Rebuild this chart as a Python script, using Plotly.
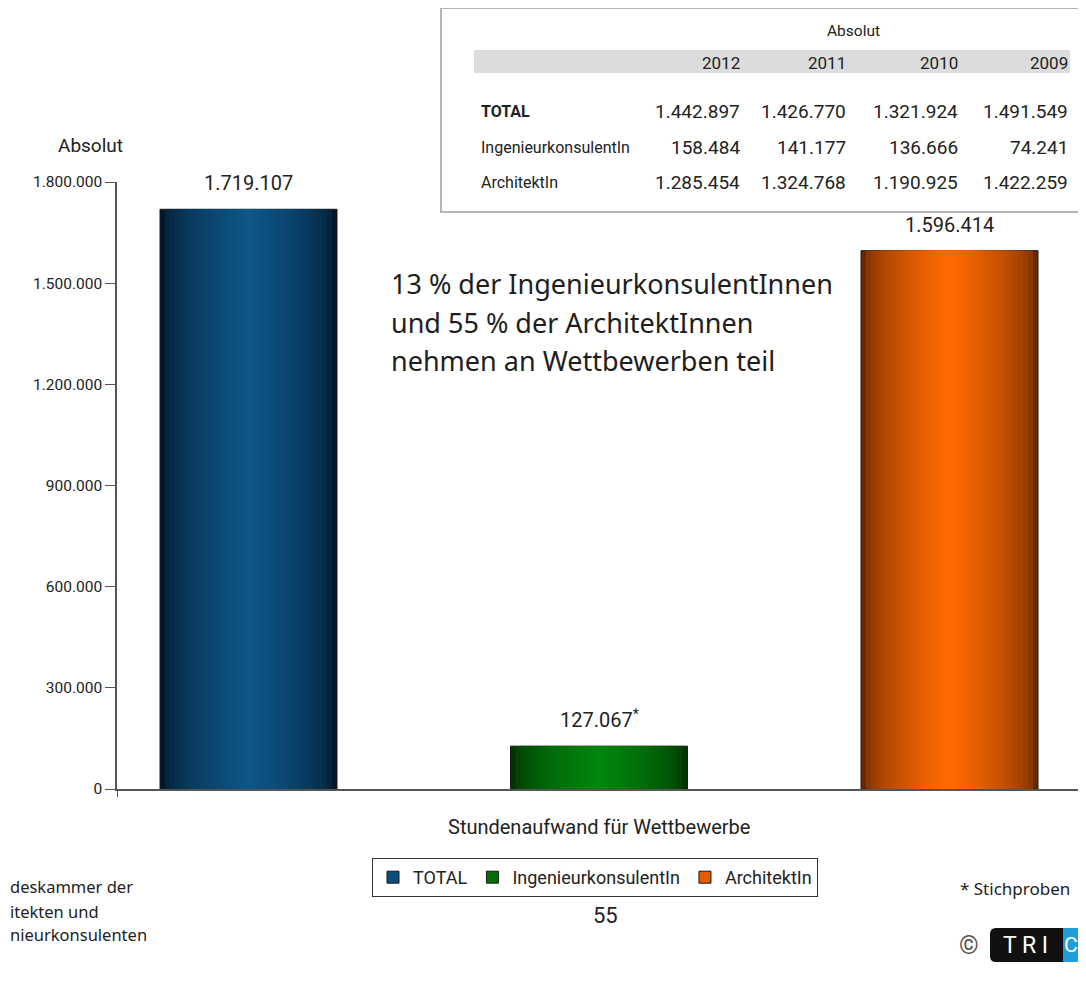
import plotly.graph_objects as go

# --- data -----------------------------------------------------------------
categories = ["TOTAL", "IngenieurkonsulentIn", "ArchitektIn"]
hours_2013 = [1719107, 127067, 1596414]
value_labels = ["1.719.107", "127.067<sup>*</sup>", "1.596.414"]

edge_colors = ["#03182a", "#023302", "#6a2802"]
center_colors = ["#0c5688", "#00860c", "#ff6a00"]
legend_colors = ["#0d4d7c", "#02700a", "#e85c00"]

y_ticks = [0, 300000, 600000, 900000, 1200000, 1500000, 1800000]

table_years = ["2012", "2011", "2010", "2009"]
table_rows = ["TOTAL", "IngenieurkonsulentIn", "ArchitektIn"]
table_total = [1442897, 1426770, 1321924, 1491549]
table_ing = [158484, 141177, 136666, 74241]
table_arch = [1285454, 1324768, 1190925, 1422259]

note_lines = ["13 % der IngenieurkonsulentInnen", "und 55 % der ArchitektInnen",
              "nehmen an Wettbewerben teil"]
source_lines = ["deskammer der", "itekten und", "nieurkonsulenten"]

# --- layout helpers ---------------------------------------------------------
# positions below are page pixels; the page body has an 8px margin
PAGE = 8
FIG_W, FIG_H = 1086 - 2 * PAGE, 982 - 2 * PAGE
L, T, B = 117, 182, 789
R = PAGE + FIG_W  # plot runs to the right edge of the figure
X0 = -0.3752
X1 = X0 + (R - L) / 350.5
BAR_W = 0.505
N_LAYERS = 18

FONT = "Roboto, Arial, sans-serif"
SANS = "Noto Sans, sans-serif"
TEXT = "#222222"


def px(x):
    return (x - L) / (R - L)


def py(y):
    return (B - y) / (B - T)


def mix(c1, c2, t):
    a = [int(c1[i:i + 2], 16) for i in (1, 3, 5)]
    b = [int(c2[i:i + 2], 16) for i in (1, 3, 5)]
    return "rgb({},{},{})".format(*[round(a[j] + (b[j] - a[j]) * t) for j in range(3)])


def fmt(v):
    return f"{v:,}".replace(",", ".")


fig = go.Figure()

# gradient bars: overlay layers, each narrower and lighter than the last
xs = list(range(len(categories)))
for k in range(N_LAYERS):
    t = (k / (N_LAYERS - 1)) ** 0.55
    w = BAR_W * (1 - k / N_LAYERS)
    fig.add_trace(go.Bar(
        x=xs,
        y=hours_2013,
        width=w,
        marker=dict(
            color=[mix(e, c, t) for e, c in zip(edge_colors, center_colors)],
            line=dict(color="#1a1a1a", width=1 if k == 0 else 0),
        ),
        showlegend=False,
        hoverinfo="skip",
    ))

for name, col in zip(categories, legend_colors):
    fig.add_trace(go.Bar(
        x=[None], y=[None], name=name,
        marker=dict(color=col, line=dict(color="#1a1a1a", width=1)),
    ))

annotations = []
for i, (v, lab) in enumerate(zip(hours_2013, value_labels)):
    annotations.append(dict(
        x=i, y=v, text=lab, showarrow=False, yanchor="bottom", yshift=12,
        font=dict(family=FONT, size=20, color=TEXT),
    ))


def paper_text(x, y, text, size, xanchor="center", color=TEXT, family=FONT, **kw):
    annotations.append(dict(
        x=px(x), y=py(y), xref="paper", yref="paper", text=text,
        showarrow=False, xanchor=xanchor, yanchor="middle",
        font=dict(family=family, size=size, color=color), **kw,
    ))


paper_text(90, 146, "Absolut", 19)
paper_text(599, 827, "Stundenaufwand für Wettbewerbe", 20)
for line, yy in zip(note_lines, [283, 322, 360]):
    paper_text(389, yy, line, 27, xanchor="left", family=SANS, color="#1e1e1e")
paper_text(605, 915, "55", 22)
for line, yy in zip(source_lines, [887, 911, 935]):
    paper_text(PAGE, yy, line, 16.5, xanchor="left", family=SANS)
paper_text(958, 888, "* Stichproben", 17, xanchor="left", family=SANS)
paper_text(969, 945, "©", 25, color="#555555")
paper_text(1025, 945, "T R I", 23, color="white")
paper_text(1071, 945, "C", 21, color="white")

# table
paper_text(853, 31, "Absolut", 15.5)
col_right = [742, 848, 960, 1070]
for yr, xr in zip(table_years, col_right):
    paper_text(xr, 63, yr, 17, xanchor="right")
row_y = [111, 147, 183]
for label, vals, yy in zip(table_rows, [table_total, table_ing, table_arch], row_y):
    lab = "<b>" + label + "</b>" if label == "TOTAL" else label
    paper_text(479, yy, lab, 16, xanchor="left")
    for v, xr in zip(vals, col_right):
        paper_text(xr, yy, fmt(v), 19, xanchor="right")

# logo with rounded left corners
lx0, lx1, ly0, ly1, rr = px(990), px(1063), py(962), py(928), 6
rx, ry = rr / (R - L), rr / (B - T)
logo_path = (f"M {lx1},{ly1} L {lx0 + rx},{ly1} Q {lx0},{ly1} {lx0},{ly1 - ry} "
             f"L {lx0},{ly0 + ry} Q {lx0},{ly0} {lx0 + rx},{ly0} L {lx1},{ly0} Z")

shapes = [
    dict(type="rect", xref="paper", yref="paper", x0=px(474), x1=px(1070),
         y0=py(73), y1=py(50), fillcolor="#dcdcdc", line=dict(width=0), layer="below"),
    dict(type="rect", xref="paper", yref="paper", x0=px(441), x1=px(1094),
         y0=py(212), y1=py(8), line=dict(color="#b4b4b4", width=2)),
    dict(type="path", xref="paper", yref="paper", path=logo_path,
         fillcolor="#111111", line=dict(width=0), layer="below"),
    dict(type="rect", xref="paper", yref="paper", x0=px(1063), x1=px(1094),
         y0=py(962), y1=py(928), fillcolor="#1e9fdc", line=dict(width=0), layer="below"),
]

# figure fits inside the window together with the body margins (no scrollbars)
fig.update_layout(
    width=FIG_W,
    height=FIG_H,
    margin=dict(l=L - PAGE, r=0, t=T - PAGE, b=PAGE + FIG_H - B),
    paper_bgcolor="white",
    plot_bgcolor="white",
    barmode="overlay",
    separators=",.",
    font=dict(family=FONT, color=TEXT),
    xaxis=dict(
        range=[X0, X1], showgrid=False, zeroline=False,
        showline=True, linecolor="#555555", linewidth=1.5,
        tickvals=[X0, X1], ticks="outside", ticklen=6, tickcolor="#555555",
        showticklabels=False,
    ),
    yaxis=dict(
        range=[0, 1800000], showgrid=False, zeroline=False,
        showline=True, linecolor="#555555", linewidth=1.5,
        tickvals=y_ticks, tickformat=",d", ticks="outside", ticklen=10,
        tickcolor="#555555", tickfont=dict(family=FONT, size=15.5, color=TEXT),
    ),
    legend=dict(
        orientation="h", x=px(595), xanchor="center", y=py(858), yanchor="top",
        bordercolor="#333333", borderwidth=1, bgcolor="white",
        font=dict(family=FONT, size=18, color=TEXT),
        itemwidth=30, tracegroupgap=0,
    ),
    annotations=annotations,
    shapes=shapes,
)

fig.write_html("out.html")
